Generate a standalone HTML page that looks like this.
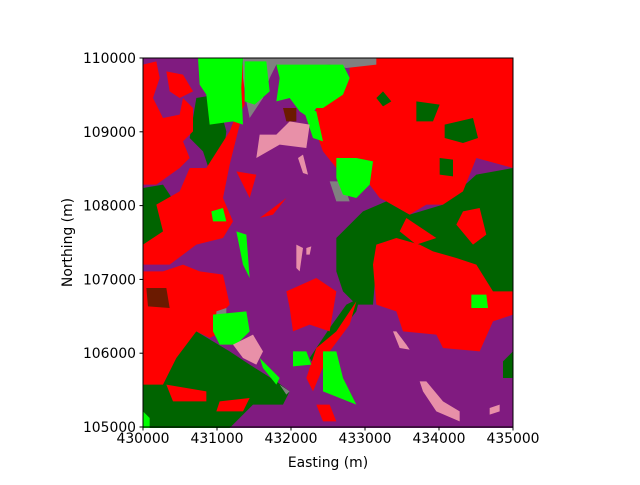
<!DOCTYPE html>
<html><head><meta charset="utf-8"><style>
html,body{margin:0;padding:0;background:#fff;}
svg text{font-family:"DejaVu Sans","Liberation Sans",sans-serif;font-size:13.9px;fill:#000;}
</style></head><body>
<svg id="chart" width="640" height="480" viewBox="0 0 640 480" xmlns="http://www.w3.org/2000/svg">
<g id="map" transform="translate(143,58) scale(0.33333)">
<rect x="0" y="0" width="1110" height="1110" fill="#801b80"/>
<g fill="#006400">
<polygon points="580,540 660,460 730,430 800,470 900,440 1000,350 1110,330 1110,720 1060,740 960,610 880,600 760,560 700,620 690,740 640,740 600,700 580,640"/>
<polygon points="160,120 220,110 250,220 240,300 200,340 180,280 140,240"/>
<polygon points="0,390 60,380 100,440 60,520 20,600 0,620"/>
<polygon points="0,790 100,830 160,820 260,880 320,920 400,970 440,1000 420,1040 330,1040 260,1110 0,1110"/>
<polygon points="500,900 560,810 610,740 650,720 640,760 570,850 520,930"/>
<polygon points="1080,910 1110,880 1110,960 1080,960"/>
</g>
<g fill="#ff0000">
<polygon points="620,0 1110,0 1110,330 1000,300 960,400 900,440 850,440 800,470 730,430 710,420 680,380 690,310 640,300 580,330 540,280 510,200 520,150 600,110 620,60"/>
<polygon points="700,560 760,540 830,560 870,580 940,600 1000,620 1050,700 1110,700 1110,770 1050,790 1010,880 900,870 880,830 780,820 760,760 700,740 690,620"/>
<polygon points="960,460 1010,450 1030,530 990,560 940,500"/>
<polygon points="790,480 880,540 820,560 770,520"/>
<polygon points="0,20 40,10 50,60 30,120 60,180 110,170 120,120 150,150 150,220 120,250 140,300 110,330 40,380 0,380"/>
<polygon points="70,40 120,50 150,100 110,120 80,100"/>
<polygon points="190,330 260,220 280,170 290,200 260,320 240,420 270,490 240,540 160,560 80,620 0,620 0,560 60,520 40,440 110,400 140,330"/>
<polygon points="0,640 60,640 120,620 170,640 240,650 260,740 240,760 260,810 200,840 160,820 100,900 60,980 0,980"/>
<polygon points="70,980 190,1000 190,1030 90,1030"/>
<polygon points="230,1030 320,1020 300,1060 220,1060"/>
<polygon points="270,20 300,20 305,140 275,200"/>
<polygon points="280,340 340,350 320,420"/>
<polygon points="350,480 430,420 390,470"/>
<polygon points="430,700 520,660 580,700 560,820 500,800 450,820 440,750"/>
<polygon points="490,960 520,870 580,820 640,730 620,800 560,880 510,1000"/>
<polygon points="520,1040 560,1040 580,1090 540,1090"/>
</g>
<g fill="#006400">
<polygon points="720,100 745,130 720,145 700,120"/>
<polygon points="820,130 890,140 870,190 820,190"/>
<polygon points="905,200 990,180 1005,240 960,255 905,240"/>
<polygon points="890,300 930,305 930,355 890,350"/>
</g>
<g fill="#808080">
<polygon points="300,0 700,0 700,20 610,30 560,20 440,30 400,20 380,60 360,120 320,180 310,130 300,60"/>
<polygon points="560,370 600,370 620,430 580,430"/>
<polygon points="220,760 250,750 250,790 220,790"/>
<polygon points="410,980 440,1000 430,1010"/>
</g>
<g fill="#00ff00">
<polygon points="165,0 300,0 295,90 300,200 270,190 200,200 190,110 170,80"/>
<polygon points="305,10 370,10 380,100 335,140 305,130"/>
<polygon points="400,20 600,20 620,60 600,110 540,150 520,150 500,180 470,160 440,120 400,130 410,60"/>
<polygon points="480,150 520,160 540,250 510,240"/>
<polygon points="580,300 640,300 690,310 680,380 640,420 600,410 580,360"/>
<polygon points="280,520 310,530 320,660 300,620"/>
<polygon points="205,460 240,450 250,490 210,490"/>
<polygon points="210,770 310,760 320,820 280,860 230,860 210,820"/>
<polygon points="350,900 410,960 400,980 360,930"/>
<polygon points="540,880 580,880 600,960 640,1040 540,1000"/>
<polygon points="450,880 490,880 505,920 450,925"/>
<polygon points="985,710 1030,710 1035,750 985,750"/>
<polygon points="0,1060 20,1080 20,1110 0,1110"/>
</g>
<g fill="#e890a8">
<polygon points="350,230 400,230 440,190 500,200 490,270 410,260 340,300"/>
<polygon points="270,860 330,830 360,880 340,920 300,900"/>
<polygon points="830,970 850,970 900,1030 950,1060 950,1090 880,1060 840,1000"/>
<polygon points="750,820 760,820 790,860 800,875 770,870"/>
<polygon points="1040,1050 1070,1040 1070,1060 1040,1070"/>
<polygon points="460,560 480,570 470,640 460,630"/>
<polygon points="490,570 505,565 500,590 490,590"/>
<polygon points="465,300 480,290 495,350 480,345"/>
</g>
<g fill="#6b1a00">
<polygon points="420,150 460,150 460,190 430,190"/>
<polygon points="10,690 70,690 80,750 15,745"/>
</g>
</g>
<rect x="143" y="58" width="370" height="369" fill="none" stroke="#000" stroke-width="1"/>
<g id="xaxis"></g>
<g id="yaxis"></g>
<text x="328" y="467" text-anchor="middle">Easting (m)</text>
<text transform="translate(72,242.5) rotate(-90)" text-anchor="middle">Northing (m)</text>
</svg>
<script>
const xTicks = [430000, 431000, 432000, 433000, 434000, 435000];
const yTicks = [105000, 106000, 107000, 108000, 109000, 110000];
const xMin = 430000, xMax = 435000, yMin = 105000, yMax = 110000;
const NS = 'http://www.w3.org/2000/svg';
function xs(v){ return 143 + (v - xMin) / (xMax - xMin) * 370; }
function ys(v){ return 427 - (v - yMin) / (yMax - yMin) * 369; }
const xg = document.getElementById('xaxis');
xTicks.forEach(t => {
  const l = document.createElementNS(NS, 'line');
  
  
  l.setAttribute('x1', xs(t)); l.setAttribute('x2', xs(t));
  l.setAttribute('y1', 427); l.setAttribute('y2', 430.5);
  l.setAttribute('stroke', '#000');
  xg.appendChild(l);
  const tx = document.createElementNS(NS, 'text');
  
  
  tx.setAttribute('x', xs(t)); tx.setAttribute('y', 443);
  tx.setAttribute('text-anchor', 'middle');
  tx.textContent = t;
  xg.appendChild(tx);
});
const yg = document.getElementById('yaxis');
yTicks.forEach(t => {
  const l = document.createElementNS(NS, 'line');
  
  
  l.setAttribute('x1', 139.5); l.setAttribute('x2', 143);
  l.setAttribute('y1', ys(t)); l.setAttribute('y2', ys(t));
  l.setAttribute('stroke', '#000');
  yg.appendChild(l);
  const tx = document.createElementNS(NS, 'text');
  
  
  tx.setAttribute('x', 136); tx.setAttribute('y', ys(t) + 5);
  tx.setAttribute('text-anchor', 'end');
  tx.textContent = t;
  yg.appendChild(tx);
});
</script>
</body></html>
